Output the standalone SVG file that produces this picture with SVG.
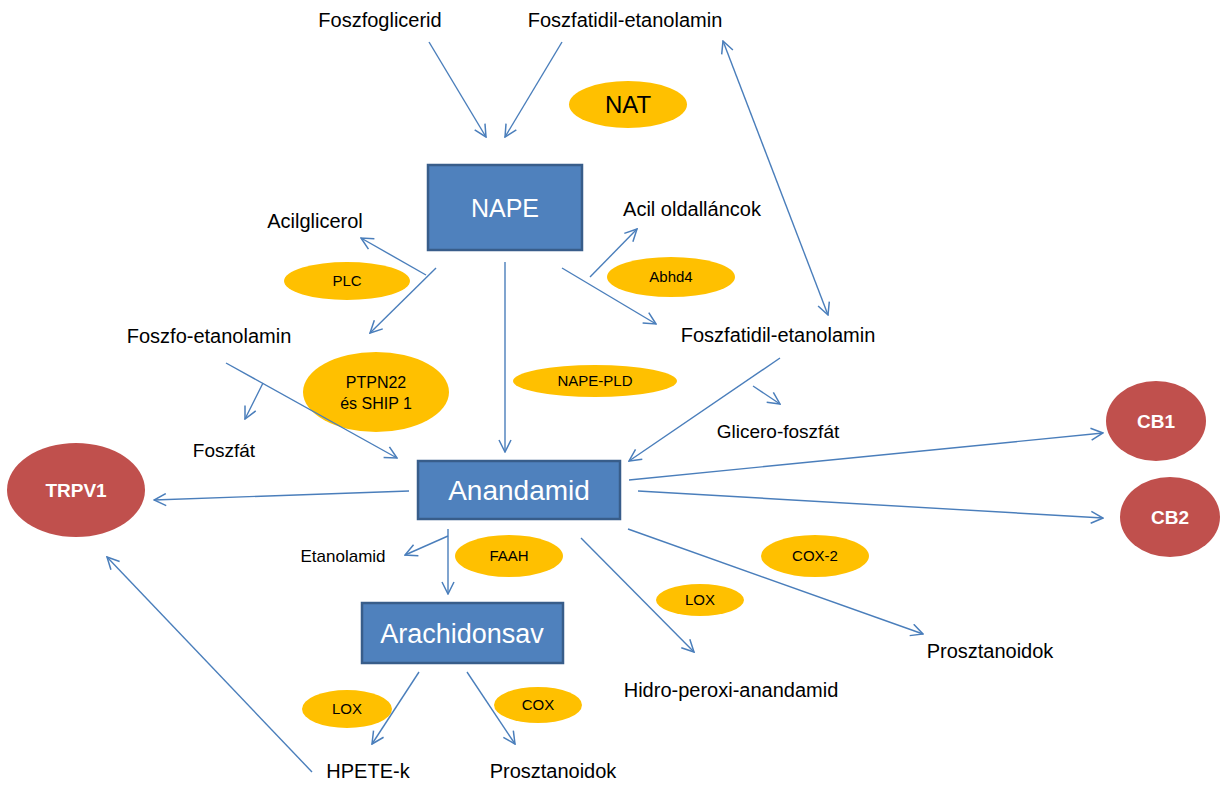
<svg xmlns="http://www.w3.org/2000/svg" width="1220" height="785" viewBox="0 0 1220 785">
<defs>
<marker id="arr" markerUnits="userSpaceOnUse" markerWidth="14" markerHeight="14" viewBox="0 0 14 14" refX="13" refY="7" orient="auto-start-reverse">
<path d="M1,1 L13,7 L1,13" fill="none" stroke="#4A7EBB" stroke-width="1.5"/>
</marker>
</defs>
<style>
.bg{fill:#ffffff}
.box{fill:#4F81BD;stroke:#385D8A;stroke-width:2.5}
.enz{fill:#FFC000}
.rec{fill:#C0504D}
.lbl{font-family:"Liberation Sans",Arial,sans-serif;font-size:20px;fill:#000;text-anchor:middle}
.sm{font-size:19px}
.etxt{font-family:"Liberation Sans",Arial,sans-serif;font-size:15px;fill:#000;text-anchor:middle}
.btxt{font-family:"Liberation Sans",Arial,sans-serif;fill:#fff;text-anchor:middle}
.rtxt{font-family:"Liberation Sans",Arial,sans-serif;font-weight:bold;font-size:19px;fill:#fff;text-anchor:middle}
.con line{stroke:#4A7EBB;stroke-width:1.4;fill:none}
</style>
<rect class="bg" x="0" y="0" width="1220" height="785"/>

<g id="enzymes">
<g id="nat"><ellipse class="enz" cx="628" cy="104.5" rx="59" ry="23.5"/><text class="etxt" x="628" y="113" style="font-size:24px">NAT</text></g>
<g id="plc"><ellipse class="enz" cx="347" cy="281" rx="63" ry="19"/><text class="etxt" x="347" y="286">PLC</text></g>
<g id="abhd4"><ellipse class="enz" cx="671" cy="277" rx="64" ry="20"/><text class="etxt" x="671" y="282">Abhd4</text></g>
<g id="ptpn22"><ellipse class="enz" cx="376" cy="392" rx="73" ry="40"/><text class="etxt" x="376" y="388" style="font-size:16px">PTPN22</text><text class="etxt" x="376" y="409" style="font-size:16px">és SHIP 1</text></g>
<g id="napepld"><ellipse class="enz" cx="595" cy="381" rx="82" ry="16"/><text class="etxt" x="595" y="386">NAPE-PLD</text></g>
<g id="faah"><ellipse class="enz" cx="509" cy="556" rx="54" ry="21"/><text class="etxt" x="509" y="561">FAAH</text></g>
<g id="cox2"><ellipse class="enz" cx="815" cy="556" rx="54" ry="21"/><text class="etxt" x="815" y="561">COX-2</text></g>
<g id="lox1"><ellipse class="enz" cx="700" cy="600" rx="44" ry="16"/><text class="etxt" x="700" y="605">LOX</text></g>
<g id="lox2"><ellipse class="enz" cx="347" cy="709" rx="45" ry="19"/><text class="etxt" x="347" y="714">LOX</text></g>
<g id="cox"><ellipse class="enz" cx="538" cy="705" rx="44" ry="18"/><text class="etxt" x="538" y="710">COX</text></g>
</g>

<g id="connectors" class="con">
<line x1="429" y1="42" x2="486" y2="137" marker-end="url(#arr)"/>
<line x1="562" y1="42" x2="505" y2="137" marker-end="url(#arr)"/>
<line x1="723" y1="41" x2="828" y2="315" marker-start="url(#arr)" marker-end="url(#arr)"/>
<line x1="436" y1="268" x2="370" y2="333" marker-end="url(#arr)"/>
<line x1="426" y1="275" x2="361" y2="238" marker-end="url(#arr)"/>
<line x1="505" y1="262" x2="505" y2="452" marker-end="url(#arr)"/>
<line x1="562" y1="268" x2="656" y2="324" marker-end="url(#arr)"/>
<line x1="590" y1="277" x2="637" y2="229" marker-end="url(#arr)"/>
<line x1="226" y1="363" x2="397" y2="458" marker-end="url(#arr)"/>
<line x1="263" y1="383" x2="245" y2="419" marker-end="url(#arr)"/>
<line x1="780" y1="358" x2="629" y2="461" marker-end="url(#arr)"/>
<line x1="753" y1="386" x2="780" y2="404" marker-end="url(#arr)"/>
<line x1="409" y1="491" x2="154" y2="500" marker-end="url(#arr)"/>
<line x1="629" y1="480" x2="1103" y2="433" marker-end="url(#arr)"/>
<line x1="638" y1="491" x2="1103" y2="518" marker-end="url(#arr)"/>
<line x1="448" y1="529" x2="448" y2="594" marker-end="url(#arr)"/>
<line x1="448" y1="536" x2="405" y2="555" marker-end="url(#arr)"/>
<line x1="581" y1="538" x2="694" y2="652" marker-end="url(#arr)"/>
<line x1="628" y1="529" x2="923" y2="634" marker-end="url(#arr)"/>
<line x1="419" y1="672" x2="372" y2="744" marker-end="url(#arr)"/>
<line x1="467" y1="672" x2="515" y2="744" marker-end="url(#arr)"/>
<line x1="312" y1="772" x2="107" y2="557" marker-end="url(#arr)"/>
</g>

<g id="nape"><rect class="box" x="428" y="165" width="154" height="85"/><text class="btxt" x="505" y="217" style="font-size:25px">NAPE</text></g>
<g id="anandamid"><rect class="box" x="418" y="461" width="202" height="58"/><text class="btxt" x="519" y="500" style="font-size:28px">Anandamid</text></g>
<g id="arachidonsav"><rect class="box" x="362" y="603" width="201" height="60"/><text class="btxt" x="462" y="643" style="font-size:27px">Arachidonsav</text></g>

<g id="trpv1"><ellipse class="rec" cx="76" cy="490" rx="69" ry="47"/><text class="rtxt" x="76" y="497">TRPV1</text></g>
<g id="cb1"><ellipse class="rec" cx="1156" cy="421" rx="50" ry="40"/><text class="rtxt" x="1156" y="428">CB1</text></g>
<g id="cb2"><ellipse class="rec" cx="1170" cy="517" rx="50" ry="40"/><text class="rtxt" x="1170" y="524">CB2</text></g>

<g id="labels">
<g id="foszfoglicerid"><text class="lbl" x="380" y="27">Foszfoglicerid</text></g>
<g id="foszfatidil-top"><text class="lbl" x="625" y="27">Foszfatidil-etanolamin</text></g>
<g id="acilglicerol"><text class="lbl" x="315" y="228">Acilglicerol</text></g>
<g id="acil"><text class="lbl" x="692" y="216">Acil oldalláncok</text></g>
<g id="foszfoetanolamin"><text class="lbl" x="209" y="343">Foszfo-etanolamin</text></g>
<g id="foszfatidil-right"><text class="lbl" x="778" y="342">Foszfatidil-etanolamin</text></g>
<g id="foszfat"><text class="lbl sm" x="224" y="457">Foszfát</text></g>
<g id="glicero"><text class="lbl sm" x="778" y="438">Glicero-foszfát</text></g>
<g id="etanolamid"><text class="lbl" x="343" y="562" style="font-size:17px">Etanolamid</text></g>
<g id="prosz-right"><text class="lbl" x="990" y="658">Prosztanoidok</text></g>
<g id="hidro"><text class="lbl" x="731" y="697">Hidro-peroxi-anandamid</text></g>
<g id="hpete"><text class="lbl" x="368" y="778">HPETE-k</text></g>
<g id="prosz-bottom"><text class="lbl" x="553" y="778">Prosztanoidok</text></g>
</g>
</svg>
